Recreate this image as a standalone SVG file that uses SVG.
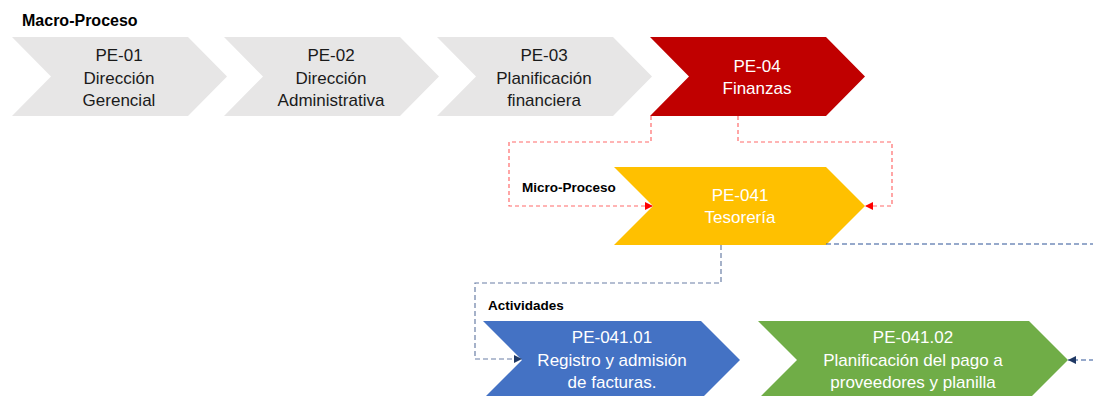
<svg xmlns="http://www.w3.org/2000/svg" width="1093" height="396" viewBox="0 0 1093 396">
  <style>
    .lbl { font-family: "Liberation Sans", Arial, sans-serif; font-size: 17px; text-anchor: middle; }
    .dark { fill: #1a1a1a; }
    .light { fill: #ffffff; }
    .head { font-family: "Liberation Sans", Arial, sans-serif; font-weight: bold; fill: #000000; }
    .gray { fill: #e7e6e6; }
    .conn { fill: none; stroke-width: 1.2; }
    .red { stroke: #ff6b6b; stroke-dasharray: 4 3; }
    .navy { stroke: #6a7fa6; stroke-dasharray: 5 3; }
    .navy2 { stroke: #2f5597; stroke-dasharray: 5 3; }
  </style>
  <defs>
    <marker id="arrRed" viewBox="0 0 8 8" refX="8" refY="4" markerWidth="8" markerHeight="8" markerUnits="userSpaceOnUse" orient="auto">
      <path d="M0,0 L8,4 L0,8 Z" fill="#ff0000"/>
    </marker>
    <marker id="arrNavy" viewBox="0 0 8 8" refX="8" refY="4" markerWidth="8" markerHeight="8" markerUnits="userSpaceOnUse" orient="auto">
      <path d="M0,0 L8,4 L0,8 Z" fill="#1f3864"/>
    </marker>
  </defs>

  <rect width="1093" height="396" fill="#ffffff"/>

  <!-- section headings -->
  <text class="head" x="22" y="26" font-size="16">Macro-Proceso</text>
  <text class="head" x="522" y="192" font-size="13.5">Micro-Proceso</text>
  <text class="head" x="488" y="310" font-size="13.5">Actividades</text>

  <!-- macro process chevrons -->
  <g id="pe01">
    <polygon class="gray" points="12,37 188,37 227,76.5 188,116 12,116 51,76.5"/>
    <text class="lbl dark" x="119" y="61">PE-01</text>
    <text class="lbl dark" x="119" y="83.5">Dirección</text>
    <text class="lbl dark" x="119" y="106">Gerencial</text>
  </g>
  <g id="pe02">
    <polygon class="gray" points="224,37 400,37 439,76.5 400,116 224,116 263,76.5"/>
    <text class="lbl dark" x="331" y="61">PE-02</text>
    <text class="lbl dark" x="331" y="83.5">Dirección</text>
    <text class="lbl dark" x="331" y="106">Administrativa</text>
  </g>
  <g id="pe03">
    <polygon class="gray" points="437,37 613,37 652,76.5 613,116 437,116 476,76.5"/>
    <text class="lbl dark" x="544" y="61">PE-03</text>
    <text class="lbl dark" x="544" y="83.5">Planificación</text>
    <text class="lbl dark" x="544" y="106">financiera</text>
  </g>
  <g id="pe04">
    <polygon fill="#c00000" points="650,37 826,37 865,76.5 826,116 650,116 689,76.5"/>
    <text class="lbl light" x="757" y="72">PE-04</text>
    <text class="lbl light" x="757" y="94">Finanzas</text>
  </g>

  <!-- micro process -->
  <g id="pe041">
    <polygon fill="#ffc000" points="614,167 826,167 865,206 826,245 614,245 653,206"/>
    <text class="lbl light" x="740" y="201">PE-041</text>
    <text class="lbl light" x="740" y="223">Tesorería</text>
  </g>

  <!-- activities -->
  <g id="pe041-01">
    <polygon fill="#4472c4" points="483,321 701,321 740,360 701,399 483,399 522,360"/>
    <text class="lbl light" x="612" y="343">PE-041.01</text>
    <text class="lbl light" x="612" y="366">Registro y admisión</text>
    <text class="lbl light" x="612" y="388">de facturas.</text>
  </g>
  <g id="pe041-02">
    <polygon fill="#70ad47" points="758,321 1029,321 1068,360 1029,399 758,399 797,360"/>
    <text class="lbl light" x="913" y="343">PE-041.02</text>
    <text class="lbl light" x="913" y="366">Planificación del pago a</text>
    <text class="lbl light" x="913" y="388">proveedores y planilla</text>
  </g>

  <!-- connectors -->
  <g id="connectors">
    <path class="conn red" d="M651,116 V142 H509 V206 H653" marker-end="url(#arrRed)"/>
    <path class="conn red" d="M738,116 V142 H892 V206 H865" marker-end="url(#arrRed)"/>
    <path class="conn navy" d="M721,245 V283 H475 V359 H522" marker-end="url(#arrNavy)"/>
    <path class="conn navy2" d="M826,244 H1110 V360 H1068" marker-end="url(#arrNavy)"/>
  </g>
</svg>
